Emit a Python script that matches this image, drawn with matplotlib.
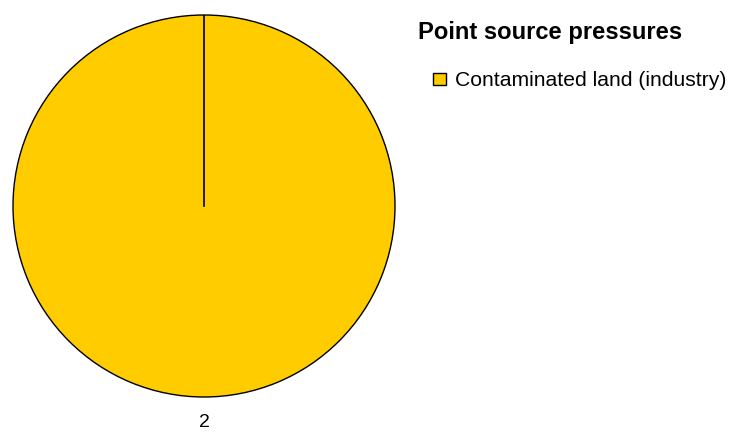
import matplotlib
matplotlib.use("Agg")
import matplotlib.pyplot as plt

labels = ["Contaminated land (industry)"]
values = [2]
colors = ["#ffcc00"]
legend_title = "Point source pressures"

plt.rcParams.update({"font.family": ["Liberation Sans", "DejaVu Sans"]})

fig = plt.figure(figsize=(7.31, 4.33), dpi=100)
fig.patch.set_facecolor("white")

# pie area in pixels: centre (204, 206), radius ~191
W, H = 731, 433
ax = fig.add_axes([13 / W, (H - 397) / H, 382 / W, 382 / H])
ax.set_aspect("equal")

wedges, _ = ax.pie(
    values,
    colors=colors,
    startangle=90,
    counterclock=False,
    radius=1,
    wedgeprops={"edgecolor": "black", "linewidth": 1.0},
)

# slice boundary at the start angle (matplotlib omits it for a full circle)
ax.plot([0, 0], [0, 1], color="black", linewidth=1.2, zorder=5)

# value label below the pie
ax.text(0, -1.136, str(values[0]), ha="center", va="center", fontsize=14)

ax.set_xlim(-1.0, 1.0)
ax.set_ylim(-1.0, 1.0)
ax.axis("off")

# legend title
fig.text(418 / W, 1 - 32 / H, legend_title, ha="left", va="center",
         fontsize=17.1, fontweight="bold")

fig.legend(
    wedges,
    labels,
    loc="center left",
    bbox_to_anchor=(433 / W, 1 - 81 / H),
    frameon=False,
    fontsize=15.2,
    borderpad=0,
    borderaxespad=0,
    handlelength=0.62,
    handleheight=0.5,
    handletextpad=0.4,
)

fig.savefig("out.png", dpi=100)
